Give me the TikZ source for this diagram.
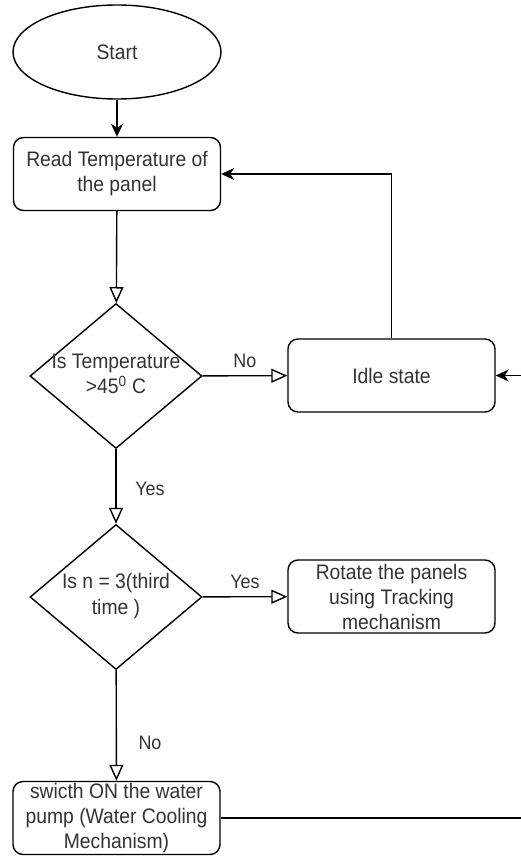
\documentclass[tikz,border=0pt]{standalone}
\usepackage{fontspec}
\setmainfont{Liberation Sans}[FakeStretch=0.92]
\usetikzlibrary{shapes.geometric,arrows.meta}

\tikzset{
  base/.style={draw=black, line width=1.4pt, inner sep=0pt, align=center,
    text=black!80, font=\fontsize{21}{25}\selectfont},
  terminal/.style={base, ellipse, minimum width=208pt, minimum height=94pt},
  process/.style={base, rectangle, rounded corners=10pt, minimum width=207pt, minimum height=73pt},
  decision/.style={base, diamond, minimum width=172pt, minimum height=145pt},
  dtext/.style={inner sep=0pt, align=center, text=black!80, font=\fontsize{21}{25.5}\selectfont},
  elabel/.style={inner sep=0pt, text=black!80, font=\fontsize{19.5}{22}\selectfont},
  flow/.style={line width=1.4pt, -{Stealth[length=13pt, width=12pt, inset=4pt]}},
  branch/.style={line width=1.4pt, -{Triangle[open, length=16pt, width=14pt, fill=white]}},
  plain/.style={line width=1.4pt}
}

\begin{document}
\begin{tikzpicture}[x=1pt, y=-1pt]
  \useasboundingbox (0,0) rectangle (521,856);

  % blocks
  \node[terminal] (start) at (117,52) {Start};
  \node[process]  (read)  at (117,174) {Read Temperature of\\the panel};
  \node[decision] (d1)    at (116,376) {};
  \node[dtext]    (d1t)   at (116,374) {Is Temperature\\>45\textsuperscript{0} C};
  \node[process]  (idle)  at (391.5,375.5) {Idle state};
  \node[decision] (d2)    at (116,597) {};
  \node[dtext]    (d2t)   at (116,596) {Is n = 3(third\\time )};
  \node[process]  (rot)   at (391.5,596.5) {Rotate the panels\\using Tracking\\mechanism};
  \node[process]  (pump)  at (116.5,818) {swicth ON the water\\pump (Water Cooling\\Mechanism)};

  % loose ends at the right border
  \coordinate (inR)  at (521,375.5);
  \coordinate (outR) at (521,818);

  % connectors
  \draw[flow]   (start) -- (read);
  \draw[branch] (read) -- (d1);
  \draw[branch] (d1) -- (idle) node[elabel, midway, above=7pt] (lno) {No};
  \draw[flow]   (idle.north) |- (read.east);
  \draw[flow]   (inR) -- (idle.east);
  \draw[branch] (d1) -- (d2);
  \node[elabel] (lyes1) at (150,489) {Yes};
  \draw[branch] (d2) -- (rot) node[elabel, midway, above=7pt] (lyes2) {Yes};
  \draw[branch] (d2) -- (pump);
  \node[elabel] (lno2) at (150,743) {No};
  \draw[plain]  (pump.east) -- (outR);
\end{tikzpicture}
\end{document}
